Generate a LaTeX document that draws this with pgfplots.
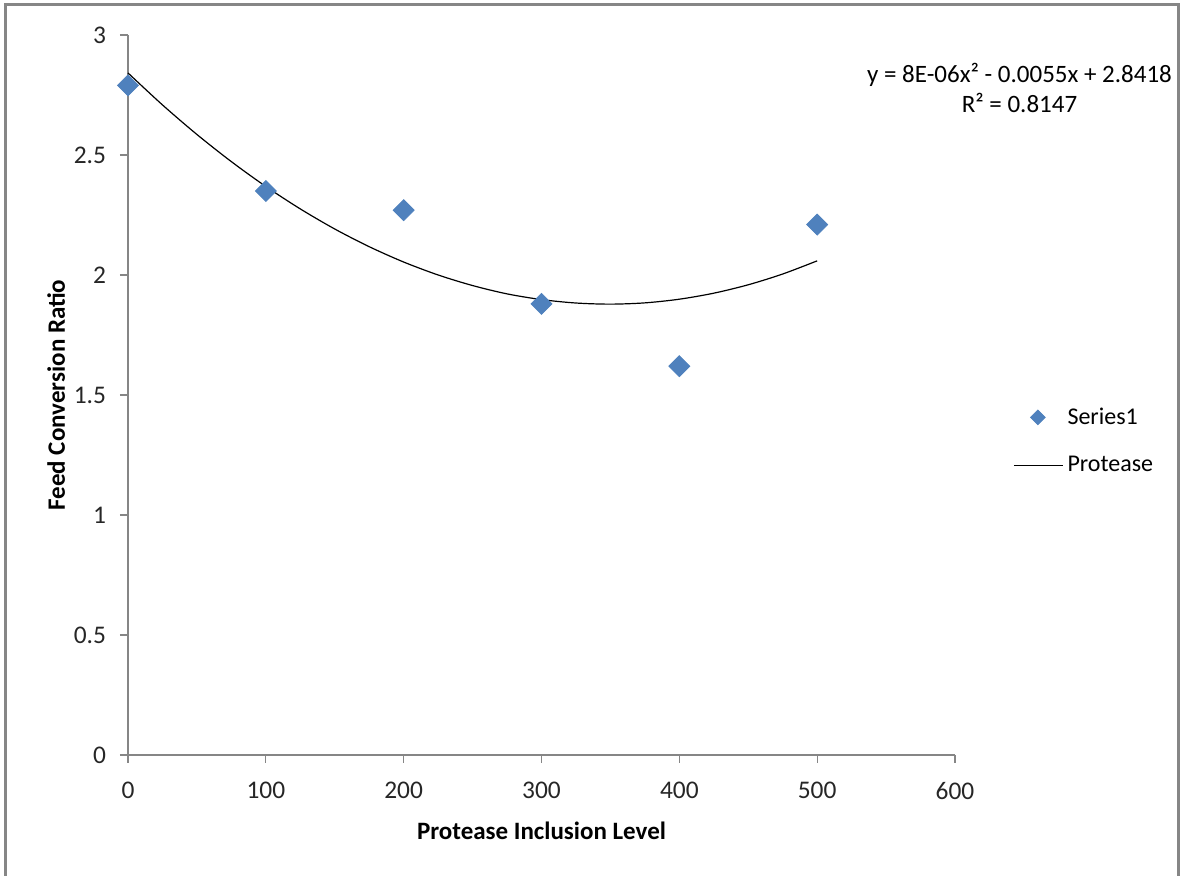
\documentclass[border=0pt]{standalone}
\usepackage{fontspec}
\setmainfont{Carlito}
\usepackage{pgfplots}
\pgfplotsset{compat=1.18}
\definecolor{xlblue}{RGB}{79,129,189}
\definecolor{xlaxis}{RGB}{134,134,134}
\pgfplotsset{
  markleg/.style={legend image code/.code={\draw[mark repeat=2, mark phase=2, ##1, mark size=2.6pt]
    plot coordinates {(0pt,0pt) (12pt,0pt) (24.5pt,0pt)};}},
  lineleg/.style={legend image code/.code={\draw[##1] (0pt,0pt) -- (24.5pt,0pt);}},
}
\begin{document}
\begin{tikzpicture}[x=1pt,y=1pt]
\useasboundingbox (0,0) rectangle (592,438);
% outer chart frame (bottom edge falls outside the picture)
\draw[xlaxis, line width=1.5pt] (2.5,-3) -- (2.5,435.5) -- (589,435.5) -- (589,-3);
\begin{axis}[
  at={(64pt,60.5pt)}, anchor=south west,
  scale only axis, width=413.5pt, height=360pt,
  xmin=0, xmax=600, ymin=0, ymax=3,
  xtick={0,100,...,600}, ytick={0,0.5,...,3},
  axis x line*=bottom, axis y line*=left,
  axis line style={xlaxis, line width=0.6pt},
  tick style={xlaxis, line width=0.6pt},
  tick align=outside, major tick length=4pt,
  clip=false,
  /pgf/number format/assume math mode=true,
  /pgf/number format/fixed,
  tick label style={font=\fontsize{12.7}{15}\selectfont, black!85},
  xticklabel style={yshift=-6pt},
  yticklabel style={xshift=-3.5pt},
  label style={font=\bfseries\fontsize{12.5}{15}\selectfont},
  xlabel style={yshift=-4.5pt},
  ylabel style={yshift=-2.5pt},
  xlabel={Protease Inclusion Level},
  ylabel={Feed Conversion Ratio},
  legend style={at={(1.07,0.436)}, anchor=west, draw=none, fill=none,
    font=\fontsize{12}{14}\selectfont, row sep=10.5pt, inner sep=0pt},
  legend cell align=left,
]
\addplot[only marks, mark=square*, mark size=3.7pt,
  mark options={rotate=45, fill=xlblue, draw=xlblue}, markleg]
  coordinates {(0,2.79) (100,2.35) (200,2.27) (300,1.88) (400,1.62) (500,2.21)};
\addlegendentry{Series1}
% polynomial trendline, order 2
\addplot[black, line width=0.6pt, smooth, no marks, lineleg]
  coordinates {
    (0,2.8418) (25,2.7087) (50,2.5855) (75,2.4722) (100,2.3688)
    (125,2.2753) (150,2.1916) (175,2.1179) (200,2.0540) (225,2.0000)
    (250,1.9560) (275,1.9213) (300,1.8975) (325,1.8832) (350,1.8785)
    (375,1.8838) (400,1.8991) (425,1.9242) (450,1.9592) (475,2.0041)
    (500,2.0589)
  };
\addlegendentry{Protease}
\end{axis}
\node[align=center, font=\fontsize{12.5}{15}\selectfont] at (509.75,394)
  {y = 8E-06x² - 0.0055x + 2.8418\\R² = 0.8147};
\end{tikzpicture}
\end{document}
